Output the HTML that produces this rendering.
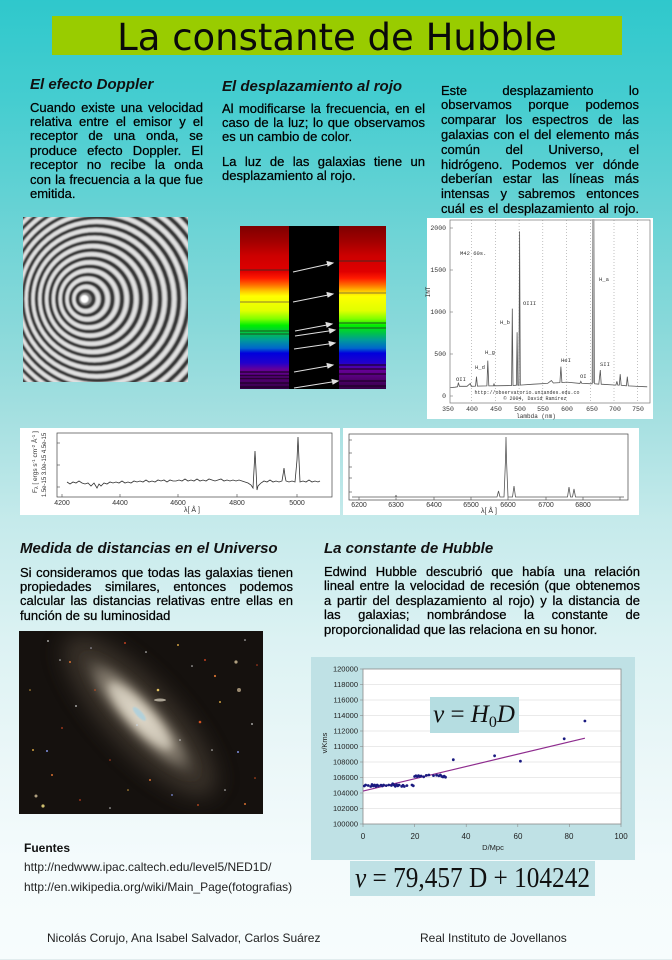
<!DOCTYPE html>
<html>
<head>
<meta charset="utf-8">
<style>
html,body{margin:0;padding:0;}
body{width:672px;height:960px;overflow:hidden;position:relative;
background:linear-gradient(to bottom,#2fc8cc 0px,#45cdd0 100px,#6ad3d5 220px,#8ad9da 330px,#a6e0e1 420px,#c5eaeb 520px,#dcf2f3 640px,#ebf7f8 760px,#f4fbfc 860px,#f7fcfd 960px);
font-family:"Liberation Sans",Arial,sans-serif;color:#000;}
svg.bg{position:absolute;left:0;top:0;}
.t{position:absolute;white-space:nowrap;}
.h{position:absolute;font-weight:bold;font-style:italic;font-size:15px;line-height:18px;white-space:nowrap;color:#111;}
.p{position:absolute;font-size:13px;color:#000;-webkit-text-stroke:0.25px #000;}
.p span{display:block;white-space:nowrap;}
.p span.j{text-align:justify;text-align-last:justify;}
</style>
</head>
<body>
<svg class="bg" width="672" height="960" viewBox="0 0 672 960" xmlns="http://www.w3.org/2000/svg">
<defs>
 <clipPath id="cd"><rect x="23" y="217" width="165" height="165"/></clipPath>
 <clipPath id="cg"><rect x="19" y="631" width="244" height="183"/></clipPath>
 <filter id="bl" x="-5%" y="-5%" width="110%" height="110%"><feGaussianBlur stdDeviation="0.8"/></filter>
 <filter id="gb" x="-50%" y="-50%" width="200%" height="200%"><feGaussianBlur stdDeviation="11"/></filter>
 <filter id="gb2" x="-50%" y="-50%" width="200%" height="200%"><feGaussianBlur stdDeviation="4"/></filter>
 <linearGradient id="spec" x1="0" y1="226" x2="0" y2="389" gradientUnits="userSpaceOnUse">
  <stop offset="0" stop-color="#7e0000"/>
  <stop offset="0.09" stop-color="#a00000"/>
  <stop offset="0.18" stop-color="#cc0000"/>
  <stop offset="0.28" stop-color="#e00000"/>
  <stop offset="0.32" stop-color="#ff1a00"/>
  <stop offset="0.36" stop-color="#ff6a00"/>
  <stop offset="0.40" stop-color="#ffc800"/>
  <stop offset="0.43" stop-color="#ffff00"/>
  <stop offset="0.52" stop-color="#e0ff00"/>
  <stop offset="0.57" stop-color="#80ff00"/>
  <stop offset="0.61" stop-color="#00ee00"/>
  <stop offset="0.66" stop-color="#00c050"/>
  <stop offset="0.70" stop-color="#009a9a"/>
  <stop offset="0.75" stop-color="#0066cc"/>
  <stop offset="0.78" stop-color="#0000dd"/>
  <stop offset="0.84" stop-color="#2200cc"/>
  <stop offset="0.88" stop-color="#660099"/>
  <stop offset="0.93" stop-color="#550077"/>
  <stop offset="1" stop-color="#330044"/>
 </linearGradient>
 <radialGradient id="gal" cx="0.5" cy="0.5" r="0.5">
  <stop offset="0" stop-color="#e8e0cf"/>
  <stop offset="0.35" stop-color="#beb4a2"/>
  <stop offset="0.7" stop-color="#766e62" stop-opacity="0.75"/>
  <stop offset="1" stop-color="#2a241e" stop-opacity="0"/>
 </radialGradient>
</defs>

<!-- title bar -->
<rect x="52" y="16" width="570" height="39" fill="#99cc00"/>

<!-- Doppler rings -->
<g clip-path="url(#cd)">
 <rect x="23" y="217" width="165" height="165" fill="#8c8c8c"/>
 <g filter="url(#bl)" fill="none">
  <g stroke="#e0e0e0" stroke-width="4.2">
   <circle cx="86.03" cy="299" r="12.23"/><circle cx="87.38" cy="299" r="20.38"/><circle cx="88.73" cy="299" r="28.53"/>
   <circle cx="90.08" cy="299" r="36.68"/><circle cx="91.43" cy="299" r="44.83"/><circle cx="92.78" cy="299" r="52.98"/>
   <circle cx="94.13" cy="299" r="61.13"/><circle cx="95.48" cy="299" r="69.28"/><circle cx="96.83" cy="299" r="77.43"/>
   <circle cx="98.18" cy="299" r="85.58"/><circle cx="99.53" cy="299" r="93.73"/><circle cx="100.88" cy="299" r="101.88"/>
   <circle cx="102.23" cy="299" r="110.03"/><circle cx="103.58" cy="299" r="118.18"/><circle cx="104.93" cy="299" r="126.33"/>
   <circle cx="106.28" cy="299" r="134.48"/><circle cx="107.63" cy="299" r="142.63"/>
  </g>
  <g stroke="#363636" stroke-width="3.4">
   <circle cx="85.35" cy="299" r="8.15"/><circle cx="86.7" cy="299" r="16.3"/><circle cx="88.05" cy="299" r="24.45"/>
   <circle cx="89.4" cy="299" r="32.6"/><circle cx="90.75" cy="299" r="40.75"/><circle cx="92.1" cy="299" r="48.9"/>
   <circle cx="93.45" cy="299" r="57.05"/><circle cx="94.8" cy="299" r="65.2"/><circle cx="96.15" cy="299" r="73.35"/>
   <circle cx="97.5" cy="299" r="81.5"/><circle cx="98.85" cy="299" r="89.65"/><circle cx="100.2" cy="299" r="97.8"/>
   <circle cx="101.55" cy="299" r="105.95"/><circle cx="102.9" cy="299" r="114.1"/><circle cx="104.25" cy="299" r="122.25"/>
   <circle cx="105.6" cy="299" r="130.4"/><circle cx="106.95" cy="299" r="138.55"/><circle cx="108.3" cy="299" r="146.7"/>
  </g>
  <circle cx="84.5" cy="299" r="4.2" fill="#ffffff" stroke="none"/>
 </g>
</g>

<!-- Redshift spectra -->
<rect x="240" y="226" width="49" height="163" fill="url(#spec)"/>
<rect x="289" y="226" width="50" height="163" fill="#000"/>
<rect x="339" y="226" width="47" height="163" fill="url(#spec)"/>
<g stroke="#4a2a20" stroke-width="1.2" opacity="0.8">
 <line x1="240" y1="270" x2="289" y2="270"/>
 <line x1="240" y1="302" x2="289" y2="302" stroke="#8a7a30"/>
 <line x1="240" y1="331" x2="289" y2="331" stroke="#205020"/>
 <line x1="240" y1="334" x2="289" y2="334" stroke="#205020"/>
 <line x1="339" y1="261" x2="386" y2="261"/>
 <line x1="339" y1="293" x2="386" y2="293" stroke="#8a7a30"/>
 <line x1="339" y1="323" x2="386" y2="323" stroke="#205020"/>
 <line x1="339" y1="328" x2="386" y2="328" stroke="#205020"/>
</g>
<g stroke="#1a0020" stroke-width="1.4" opacity="0.75">
 <line x1="240" y1="372" x2="289" y2="372"/><line x1="240" y1="375.5" x2="289" y2="375.5"/>
 <line x1="240" y1="378.5" x2="289" y2="378.5"/><line x1="240" y1="383" x2="289" y2="383"/>
 <line x1="240" y1="387" x2="289" y2="387"/>
 <line x1="339" y1="365" x2="386" y2="365"/><line x1="339" y1="369" x2="386" y2="369"/>
 <line x1="339" y1="374" x2="386" y2="374"/><line x1="339" y1="381" x2="386" y2="381"/>
 <line x1="339" y1="386" x2="386" y2="386"/>
</g>
<g stroke="#e0e0e0" stroke-width="1" fill="#e0e0e0">
 <line x1="293" y1="272" x2="330" y2="263.7"/><polygon points="333,263 327,261.5 328,266"/>
 <line x1="293" y1="302" x2="330" y2="294.6"/><polygon points="333,294 327,292.5 328,297"/>
 <line x1="295" y1="331" x2="329" y2="324.6"/><polygon points="332,324 326,322.5 327,327"/>
 <line x1="295" y1="336" x2="332" y2="330.5"/><polygon points="335,330 329,328.5 330,333"/>
 <line x1="294" y1="349" x2="332" y2="343.5"/><polygon points="335,343 329,341.5 330,346"/>
 <line x1="294" y1="372" x2="330" y2="365.6"/><polygon points="333,365 327,363.5 328,368"/>
 <line x1="294" y1="388" x2="335" y2="381.5"/><polygon points="338,381 332,379.5 333,384"/>
</g>

<!-- Observatorio spectrum -->
<rect x="427" y="218" width="226" height="201" fill="#ffffff"/>
<g stroke="#9a9a9a" stroke-width="0.6" stroke-dasharray="1,2">
 <line x1="471.7" y1="220" x2="471.7" y2="403"/><line x1="495.4" y1="220" x2="495.4" y2="403"/>
 <line x1="519.1" y1="220" x2="519.1" y2="403"/><line x1="542.8" y1="220" x2="542.8" y2="403"/>
 <line x1="566.6" y1="220" x2="566.6" y2="403"/><line x1="590.3" y1="220" x2="590.3" y2="403"/>
 <line x1="614" y1="220" x2="614" y2="403"/><line x1="637.7" y1="220" x2="637.7" y2="403"/>
</g>
<rect x="450" y="220" width="200" height="183" fill="none" stroke="#777" stroke-width="0.7"/>
<g stroke="#777" stroke-width="0.6">
 <line x1="450" y1="228" x2="453" y2="228"/><line x1="450" y1="270" x2="453" y2="270"/>
 <line x1="450" y1="312" x2="453" y2="312"/><line x1="450" y1="354" x2="453" y2="354"/>
 <line x1="450" y1="396" x2="453" y2="396"/>
</g>
<g font-family="Liberation Mono, monospace" font-size="6.5" fill="#333">
 <text x="446" y="230" text-anchor="end">2000</text>
 <text x="446" y="272" text-anchor="end">1500</text>
 <text x="446" y="314" text-anchor="end">1000</text>
 <text x="446" y="356" text-anchor="end">500</text>
 <text x="446" y="398" text-anchor="end">0</text>
 <text x="448" y="411" text-anchor="middle">350</text><text x="472" y="411" text-anchor="middle">400</text>
 <text x="496" y="411" text-anchor="middle">450</text><text x="520" y="411" text-anchor="middle">500</text>
 <text x="543" y="411" text-anchor="middle">550</text><text x="567" y="411" text-anchor="middle">600</text>
 <text x="592" y="411" text-anchor="middle">650</text><text x="615" y="411" text-anchor="middle">700</text>
 <text x="638" y="411" text-anchor="middle">750</text>
 <text x="536" y="418" text-anchor="middle" font-size="6">lambda (nm)</text>
 <text x="0" y="0" font-size="6" transform="translate(430,292) rotate(-90)" text-anchor="middle">INT</text>
 <text x="460" y="255" font-size="5.5">M42 60s.</text>
 <text x="456" y="381" font-size="5.5">OII</text>
 <text x="475" y="369" font-size="5.5">H_d</text>
 <text x="485" y="354" font-size="5.5">H_g</text>
 <text x="500" y="324" font-size="5.5">H_b</text>
 <text x="523" y="305" font-size="5.5">OIII</text>
 <text x="561" y="362" font-size="5.5">HeI</text>
 <text x="580" y="378" font-size="5.5">OI</text>
 <text x="599" y="281" font-size="5.5">H_a</text>
 <text x="600" y="366" font-size="5.5">SII</text>
 <text x="527" y="394" font-size="5" text-anchor="middle">http://observatorio.uniandes.edu.co</text>
 <text x="535" y="400" font-size="5" text-anchor="middle">© 2004, David Ramírez</text>
</g>
<polyline fill="none" stroke="#555" stroke-width="0.8" points="450.4,387.6 455.1,387.2 457.5,386.8 458.4,382.6 459.4,386.3 467,386.3 470.3,383.4 471.2,386.3 475.5,386.1 476.5,376.7 477.4,386.1 486.9,385.9 487.8,360.7 488.8,385.9 493.5,385.8 494,383.4 494.5,385.8 511.6,385.5 512.3,308.6 513,385.5 516.4,385.2 517.1,332.2 517.8,385.2 518.9,385.2 519.6,231.4 520.3,385.1 533.4,384.2 547.6,383.4 551.4,380.5 553.3,383 559.9,382.6 560.9,366.6 561.9,382.6 566.6,382.1 579.9,383.4 580.8,381.3 581.8,383.4 592.2,383.8 592.7,220 594.1,220 594.6,383.8 598.8,384.2 600.3,370 601.2,384.2 615.9,385.1 616.9,381.3 617.8,385.1 619.3,385.1 620.2,374.2 621.2,385.3 626.4,385.8 627.3,376.7 628.3,385.9 647.2,386.8"/>
<rect x="592.5" y="220" width="2" height="163" fill="#aaa"/>

<!-- Small spectrum 1 -->
<rect x="20" y="428" width="320" height="87" fill="#ffffff"/>
<rect x="57" y="433" width="275" height="64" fill="none" stroke="#444" stroke-width="0.7"/>
<g stroke="#444" stroke-width="0.6">
 <line x1="57" y1="443" x2="60" y2="443"/><line x1="57" y1="465" x2="60" y2="465"/><line x1="57" y1="487" x2="60" y2="487"/>
 <line x1="62" y1="497" x2="62" y2="494"/><line x1="120" y1="497" x2="120" y2="494"/><line x1="178" y1="497" x2="178" y2="494"/>
 <line x1="237" y1="497" x2="237" y2="494"/><line x1="297" y1="497" x2="297" y2="494"/>
</g>
<g font-family="Liberation Sans, sans-serif" font-size="7" fill="#333">
 <text x="62" y="505" text-anchor="middle">4200</text><text x="120" y="505" text-anchor="middle">4400</text>
 <text x="178" y="505" text-anchor="middle">4600</text><text x="237" y="505" text-anchor="middle">4800</text>
 <text x="297" y="505" text-anchor="middle">5000</text>
 <text x="192" y="512" text-anchor="middle">λ[ Å ]</text>
 <text transform="translate(46,443) rotate(-90)" text-anchor="middle" font-size="6">4.5e-15</text>
 <text transform="translate(46,465) rotate(-90)" text-anchor="middle" font-size="6">3.0e-15</text>
 <text transform="translate(46,487) rotate(-90)" text-anchor="middle" font-size="6">1.5e-15</text>
 <text transform="translate(37,462) rotate(-90)" text-anchor="middle" font-size="6.5">F<tspan font-size="5" dy="1">λ</tspan><tspan dy="-1"> [ ergs s</tspan><tspan font-size="4.5" dy="-2">-1</tspan><tspan dy="2"> cm</tspan><tspan font-size="4.5" dy="-2">-2</tspan><tspan dy="2"> Å</tspan><tspan font-size="4.5" dy="-2">-1</tspan><tspan dy="2"> ]</tspan></text>
</g>
<polyline fill="none" stroke="#333" stroke-width="0.8" points="67,482 70,484 73,482 76,483 79,481 82,483 85,484 88,483 91,486 94,483 97,488 99,484 101,486 104,483 107,484 110,482 113,483 116,482 119,483 122,481 125,483 128,482 131,483 134,481 137,482 140,481 143,482 146,480 149,482 152,481 155,482 158,480 161,481 164,480 167,482 170,480 173,481 176,481 179,480 182,481 185,479 188,481 191,480 194,481 197,479 200,481 203,480 206,481 209,479 212,480 215,481 218,480 221,479 224,481 227,480 230,481 233,480 236,481 239,480 242,481 245,482 248,483 251,485 253,488 254,470 255,451 256,470 257,490 258,486 261,483 264,481 267,482 270,480 273,482 276,481 279,482 282,481 283,475 284,468 285,476 286,481 289,482 292,481 295,482 297,460 298,437 299,460 300,482 303,481 306,482 309,480 312,482 315,481 318,482 320,481"/>

<!-- Small spectrum 2 -->
<rect x="343" y="428" width="296" height="87" fill="#ffffff"/>
<rect x="349" y="434" width="279" height="66" fill="none" stroke="#444" stroke-width="0.7"/>
<g stroke="#444" stroke-width="0.6">
 <line x1="349" y1="440" x2="352" y2="440"/><line x1="349" y1="453" x2="352" y2="453"/><line x1="349" y1="467" x2="352" y2="467"/>
 <line x1="349" y1="478" x2="352" y2="478"/><line x1="349" y1="492" x2="352" y2="492"/>
 <line x1="359" y1="500" x2="359" y2="497"/><line x1="396" y1="500" x2="396" y2="497"/><line x1="434" y1="500" x2="434" y2="497"/>
 <line x1="471" y1="500" x2="471" y2="497"/><line x1="508" y1="500" x2="508" y2="497"/><line x1="546" y1="500" x2="546" y2="497"/>
 <line x1="583" y1="500" x2="583" y2="497"/><line x1="620" y1="500" x2="620" y2="497"/>
</g>
<g font-family="Liberation Sans, sans-serif" font-size="7" fill="#333">
 <text x="359" y="507" text-anchor="middle">6200</text><text x="396" y="507" text-anchor="middle">6300</text>
 <text x="434" y="507" text-anchor="middle">6400</text><text x="471" y="507" text-anchor="middle">6500</text>
 <text x="508" y="507" text-anchor="middle">6600</text><text x="546" y="507" text-anchor="middle">6700</text>
 <text x="583" y="507" text-anchor="middle">6800</text>
 <text x="489" y="513" text-anchor="middle">λ[ Å ]</text>
</g>
<polyline fill="none" stroke="#555" stroke-width="0.8" points="352,497 395,497 396,495.5 397,497 497,497 498.5,491 500,497 504,497 505.5,460 506,437 506.5,460 508,497 512.5,497 514,486 515.5,497 567.5,497 569,487 570.5,497 572.5,497 574,489 575.5,497 624,497"/>

<!-- Galaxy image -->
<g clip-path="url(#cg)">
 <rect x="19" y="631" width="244" height="183" fill="#15110e"/>
 <g transform="translate(140,716) rotate(47)">
  <ellipse cx="0" cy="0" rx="105" ry="34" fill="#524a3e" opacity="0.6" filter="url(#gb)"/>
  <ellipse cx="0" cy="0" rx="88" ry="23" fill="url(#gal)" filter="url(#gb2)"/>
  <ellipse cx="0" cy="0" rx="44" ry="10" fill="#dcd6c8" opacity="0.6" filter="url(#gb2)"/>
  <ellipse cx="-2" cy="-1" rx="9" ry="3" fill="#a8d0e0" opacity="0.8" filter="url(#bl)"/>
 </g>
 <ellipse cx="160" cy="700" rx="6" ry="1.5" fill="#c8c0b0" opacity="0.8"/>
 <g>
  <circle cx="48" cy="641" r="0.9" fill="#ccc"/><circle cx="70" cy="662" r="1" fill="#d87030"/>
  <circle cx="91" cy="648" r="0.8" fill="#aab"/><circle cx="125" cy="643" r="1" fill="#c04020"/>
  <circle cx="146" cy="652" r="0.8" fill="#ddd"/><circle cx="178" cy="645" r="1" fill="#d0a040"/>
  <circle cx="205" cy="660" r="1" fill="#c04020"/><circle cx="236" cy="662" r="1.6" fill="#b0a080"/>
  <circle cx="215" cy="676" r="1.1" fill="#d07030"/><circle cx="239" cy="690" r="2" fill="#9a8a70"/>
  <circle cx="245" cy="640" r="0.8" fill="#ccc"/><circle cx="257" cy="665" r="0.8" fill="#c04020"/>
  <circle cx="158" cy="690" r="1.3" fill="#e0c060"/><circle cx="200" cy="722" r="1.3" fill="#d05020"/>
  <circle cx="220" cy="702" r="1" fill="#d0a040"/><circle cx="238" cy="752" r="1" fill="#8090e0"/>
  <circle cx="252" cy="724" r="0.9" fill="#ccc"/><circle cx="47" cy="751" r="1" fill="#8090e0"/>
  <circle cx="33" cy="750" r="1" fill="#d0a040"/><circle cx="52" cy="775" r="1" fill="#d87030"/>
  <circle cx="62" cy="728" r="0.9" fill="#c04020"/><circle cx="36" cy="796" r="1.5" fill="#b0a080"/>
  <circle cx="43" cy="806" r="1.6" fill="#d0c070"/><circle cx="80" cy="800" r="0.9" fill="#c04020"/>
  <circle cx="110" cy="808" r="0.8" fill="#ccc"/><circle cx="150" cy="780" r="1" fill="#d87030"/>
  <circle cx="172" cy="795" r="0.9" fill="#8090e0"/><circle cx="198" cy="805" r="0.9" fill="#d05020"/>
  <circle cx="225" cy="790" r="0.8" fill="#ccc"/><circle cx="245" cy="804" r="1" fill="#d87030"/>
  <circle cx="180" cy="740" r="0.8" fill="#ccc"/><circle cx="95" cy="690" r="0.8" fill="#d05020"/>
  <circle cx="76" cy="706" r="0.9" fill="#ccc"/><circle cx="30" cy="690" r="0.8" fill="#d0a040"/>
  <circle cx="110" cy="760" r="0.8" fill="#c04020"/><circle cx="212" cy="750" r="0.8" fill="#ccc"/>
  <circle cx="128" cy="790" r="0.8" fill="#d0a040"/><circle cx="60" cy="660" r="0.8" fill="#ccc"/>
  <circle cx="255" cy="778" r="0.8" fill="#d05020"/><circle cx="192" cy="666" r="0.8" fill="#ccc"/>
  <circle cx="137" cy="725" r="0.8" fill="#cde"/>
 </g>
</g>

<!-- Hubble chart -->
<rect x="311" y="657" width="324" height="203" fill="#bfe1e5"/>
<rect x="363" y="669" width="258" height="155" fill="#ffffff"/>
<g stroke="#d6d6d6" stroke-width="0.6">
 <line x1="363" y1="684.5" x2="621" y2="684.5"/><line x1="363" y1="700" x2="621" y2="700"/>
 <line x1="363" y1="715.5" x2="621" y2="715.5"/><line x1="363" y1="731" x2="621" y2="731"/>
 <line x1="363" y1="746.5" x2="621" y2="746.5"/><line x1="363" y1="762" x2="621" y2="762"/>
 <line x1="363" y1="777.5" x2="621" y2="777.5"/><line x1="363" y1="793" x2="621" y2="793"/>
 <line x1="363" y1="808.5" x2="621" y2="808.5"/>
</g>
<rect x="363" y="669" width="258" height="155" fill="none" stroke="#8a8a8a" stroke-width="0.8"/>
<g stroke="#8a8a8a" stroke-width="0.6">
 <line x1="360" y1="669" x2="363" y2="669"/><line x1="360" y1="684.5" x2="363" y2="684.5"/><line x1="360" y1="700" x2="363" y2="700"/>
 <line x1="360" y1="715.5" x2="363" y2="715.5"/><line x1="360" y1="731" x2="363" y2="731"/><line x1="360" y1="746.5" x2="363" y2="746.5"/>
 <line x1="360" y1="762" x2="363" y2="762"/><line x1="360" y1="777.5" x2="363" y2="777.5"/><line x1="360" y1="793" x2="363" y2="793"/>
 <line x1="360" y1="808.5" x2="363" y2="808.5"/><line x1="360" y1="824" x2="363" y2="824"/>
 <line x1="363" y1="824" x2="363" y2="827"/><line x1="414.6" y1="824" x2="414.6" y2="827"/><line x1="466.2" y1="824" x2="466.2" y2="827"/>
 <line x1="517.8" y1="824" x2="517.8" y2="827"/><line x1="569.4" y1="824" x2="569.4" y2="827"/><line x1="621" y1="824" x2="621" y2="827"/>
</g>
<g font-family="Liberation Sans, sans-serif" font-size="7.5" fill="#222" text-anchor="end">
 <text x="358" y="671.5">120000</text><text x="358" y="687">118000</text><text x="358" y="702.5">116000</text>
 <text x="358" y="718">114000</text><text x="358" y="733.5">112000</text><text x="358" y="749">110000</text>
 <text x="358" y="764.5">108000</text><text x="358" y="780">106000</text><text x="358" y="795.5">104000</text>
 <text x="358" y="811">102000</text><text x="358" y="826.5">100000</text>
</g>
<g font-family="Liberation Sans, sans-serif" font-size="8" fill="#222" text-anchor="middle">
 <text x="363" y="839">0</text><text x="415" y="839">20</text><text x="466" y="839">40</text>
 <text x="518" y="839">60</text><text x="569" y="839">80</text><text x="621" y="839">100</text>
 <text x="493" y="850" font-size="7.5">D/Mpc</text>
 <text transform="translate(327,743) rotate(-90)" font-size="7.5">v/Kms</text>
</g>
<line x1="363" y1="791.1" x2="584.9" y2="738.2" stroke="#8e2c8e" stroke-width="1.2"/>
<g fill="#1a1a80">
 <circle cx="364.3" cy="786" r="1.4"/><circle cx="365.6" cy="785" r="1.4"/><circle cx="368.2" cy="785.5" r="1.4"/>
 <circle cx="370.7" cy="786.5" r="1.4"/><circle cx="372" cy="784.5" r="1.4"/><circle cx="373.3" cy="786" r="1.4"/>
 <circle cx="374.6" cy="785" r="1.4"/><circle cx="375.9" cy="786.5" r="1.4"/><circle cx="377.2" cy="785" r="1.4"/>
 <circle cx="378.5" cy="786" r="1.4"/><circle cx="381" cy="785.2" r="1.4"/><circle cx="382.4" cy="786" r="1.4"/>
 <circle cx="383.6" cy="785" r="1.4"/><circle cx="386.2" cy="785.6" r="1.4"/><circle cx="388.8" cy="785" r="1.4"/>
 <circle cx="391.4" cy="785.5" r="1.4"/><circle cx="392.7" cy="783.8" r="1.4"/><circle cx="394" cy="785" r="1.4"/>
 <circle cx="395.3" cy="786.3" r="1.4"/><circle cx="396.5" cy="784.6" r="1.4"/><circle cx="397.8" cy="785.8" r="1.4"/>
 <circle cx="399.1" cy="785" r="1.4"/><circle cx="401.7" cy="786.4" r="1.4"/><circle cx="403" cy="785.3" r="1.4"/>
 <circle cx="404.3" cy="786.5" r="1.4"/><circle cx="406.9" cy="785.6" r="1.4"/>
 <circle cx="412" cy="785" r="1.4"/><circle cx="413.3" cy="785.8" r="1.4"/>
 <circle cx="414.6" cy="776.5" r="1.4"/><circle cx="415.9" cy="775.8" r="1.4"/><circle cx="417.2" cy="776.6" r="1.4"/>
 <circle cx="418.5" cy="775.6" r="1.4"/><circle cx="419.8" cy="776.4" r="1.4"/><circle cx="421.1" cy="776" r="1.4"/>
 <circle cx="423.7" cy="776.8" r="1.4"/><circle cx="426.3" cy="775.4" r="1.4"/><circle cx="428.9" cy="775" r="1.4"/>
 <circle cx="433.5" cy="775.6" r="1.4"/><circle cx="436.6" cy="775.2" r="1.4"/><circle cx="438.9" cy="775.8" r="1.4"/>
 <circle cx="440.4" cy="775" r="1.4"/><circle cx="441.7" cy="776.4" r="1.4"/><circle cx="443" cy="777" r="1.4"/>
 <circle cx="444.2" cy="776.2" r="1.4"/><circle cx="445.5" cy="777.2" r="1.4"/>
 <circle cx="453.3" cy="759.7" r="1.4"/><circle cx="494.6" cy="755.8" r="1.4"/><circle cx="520.4" cy="761.2" r="1.4"/>
 <circle cx="564.2" cy="738.8" r="1.4"/><circle cx="584.9" cy="721" r="1.4"/>
</g>
<rect x="430" y="697" width="89" height="36" fill="#b5dde1"/>
<text x="474" y="722" font-family="Liberation Serif, serif" font-size="25" fill="#111" text-anchor="middle"><tspan font-style="italic">v</tspan> = <tspan font-style="italic">H</tspan><tspan font-size="16" dy="5">0</tspan><tspan dy="-5" font-style="italic">D</tspan></text>
<rect x="350" y="861" width="245" height="35" fill="#bfe1e5"/>
<text x="355" y="887" font-family="Liberation Serif, serif" font-size="28" fill="#111" textLength="235" lengthAdjust="spacingAndGlyphs"><tspan font-style="italic">v</tspan> = 79,457 D + 104242</text>
<line x1="0" y1="959.5" x2="672" y2="959.5" stroke="#e2ecee" stroke-width="1"/>
</svg>

<div class="t" style="left:52px;top:16px;width:570px;height:39px;text-align:center;font-family:'DejaVu Sans','Liberation Sans',sans-serif;font-size:37px;line-height:39px;padding-top:2px;box-sizing:border-box;color:#0a0a0a;">La constante de Hubble</div>

<div class="h" style="left:30px;top:75.5px;">El efecto Doppler</div>
<div class="p" style="left:30px;top:100.5px;width:173px;line-height:14.44px;">
<span class="j">Cuando existe una velocidad</span>
<span class="j">relativa entre el emisor y el</span>
<span class="j">receptor de una onda, se</span>
<span class="j">produce efecto Doppler. El</span>
<span class="j">receptor no recibe la onda</span>
<span class="j">con la frecuencia a la que fue</span>
<span>emitida.</span>
</div>

<div class="h" style="left:222px;top:78px;">El desplazamiento al rojo</div>
<div class="p" style="left:222px;top:101.5px;width:203px;line-height:14.3px;">
<span class="j">Al modificarse la frecuencia, en el</span>
<span class="j">caso de la luz; lo que observamos</span>
<span>es un cambio de color.</span>
</div>
<div class="p" style="left:222px;top:155px;width:203px;line-height:14.3px;">
<span class="j">La luz de las galaxias tiene un</span>
<span>desplazamiento al rojo.</span>
</div>

<div class="p" style="left:441px;top:83.5px;width:198px;line-height:14.83px;">
<span class="j">Este desplazamiento lo</span>
<span class="j">observamos porque podemos</span>
<span class="j">comparar los espectros de las</span>
<span class="j">galaxias con el del elemento más</span>
<span class="j">común del Universo, el</span>
<span class="j">hidrógeno. Podemos ver dónde</span>
<span class="j">deberían estar las líneas más</span>
<span class="j">intensas y sabremos entonces</span>
<span class="j">cuál es el desplazamiento al rojo.</span>
</div>

<div class="h" style="left:20px;top:539.5px;">Medida de distancias en el Universo</div>
<div class="p" style="left:20px;top:565.5px;width:273px;line-height:14.4px;">
<span class="j">Si consideramos que todas las galaxias tienen</span>
<span class="j">propiedades similares, entonces podemos</span>
<span class="j">calcular las distancias relativas entre ellas en</span>
<span>función de su luminosidad</span>
</div>

<div class="h" style="left:324px;top:539.5px;">La constante de Hubble</div>
<div class="p" style="left:324px;top:564.5px;width:316px;line-height:14.5px;">
<span class="j">Edwind Hubble descubrió que había una relación</span>
<span class="j">lineal entre la velocidad de recesión (que obtenemos</span>
<span class="j">a partir del desplazamiento al rojo) y la distancia de</span>
<span class="j">las galaxias; nombrándose la constante de</span>
<span>proporcionalidad que las relaciona en su honor.</span>
</div>

<div class="t" style="left:24px;top:840px;font-size:12px;line-height:16px;font-weight:bold;color:#111;">Fuentes</div>
<div class="t" style="left:24px;top:859px;font-size:12px;line-height:16px;color:#222;">http://nedwww.ipac.caltech.edu/level5/NED1D/</div>
<div class="t" style="left:24px;top:879px;font-size:12px;line-height:16px;color:#222;">http://en.wikipedia.org/wiki/Main_Page(fotografias)</div>

<div class="t" style="left:47px;top:930px;font-size:12px;line-height:16px;color:#222;">Nicolás Corujo, Ana Isabel Salvador, Carlos Suárez</div>
<div class="t" style="left:420px;top:930px;font-size:12px;line-height:16px;color:#222;">Real Instituto de Jovellanos</div>
</body>
</html>
